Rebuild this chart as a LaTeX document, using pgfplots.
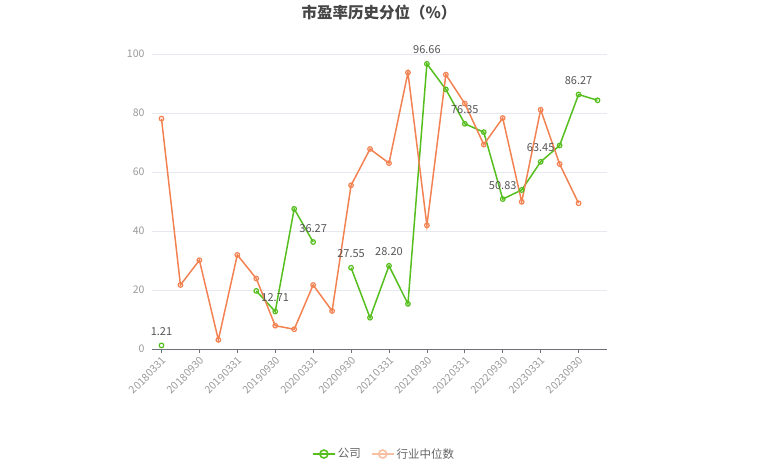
\documentclass[border=0pt]{standalone}
\usepackage{pgfplots}
\pgfplotsset{compat=1.18}
\usepackage{fontspec}
\setmainfont{Noto Sans CJK SC}
\definecolor{cgreen}{RGB}{86,190,30}
\definecolor{corange}{RGB}{242,130,82}
\definecolor{lgorange}{RGB}{248,192,162}
\definecolor{gridgray}{RGB}{230,233,240}
\definecolor{axisgray}{RGB}{110,112,121}
\definecolor{labelgray}{RGB}{153,153,153}
\definecolor{titlegray}{RGB}{70,70,70}
\definecolor{valgray}{RGB}{85,85,85}
\definecolor{leggray}{RGB}{100,100,100}
\begin{document}
\begin{tikzpicture}
\path[use as bounding box] (0pt,0pt) rectangle (765pt,467pt);
\node[font=\bfseries\fontsize{15.5}{18}\selectfont, text=titlegray] at (379pt,454pt) {市盈率历史分位（\%）};
\begin{axis}[
  at={(152pt,118pt)}, anchor=south west, scale only axis,
  width=455pt, height=295pt,
  xmin=-0.5, xmax=23.5, ymin=0, ymax=100,
  axis x line*=bottom, axis y line*=left,
  x axis line style={color=axisgray, line width=0.8pt},
  y axis line style={draw=none},
  ytick={0,20,...,100},
  ymajorgrids, grid style={color=gridgray, line width=0.6pt},
  ytick style={draw=none},
  xtick={0,2,...,22},
  xticklabels={20180331,20180930,20190331,20190930,20200331,20200930,20210331,20210930,20220331,20220930,20230331,20230930},
  xtick style={color=axisgray, line width=0.8pt},
  tick align=outside, major tick length=4pt,
  /pgf/number format/assume math mode=true,
  y tick label style={font=\fontsize{10.5}{12}\selectfont, text=labelgray},
  x tick label style={font=\fontsize{10.5}{12}\selectfont, text=labelgray, rotate=45, anchor=north east, inner sep=2pt},
  unbounded coords=jump,
  clip=false,
  legend columns=2,
  legend style={at={(0.51,-0.356)}, anchor=center, draw=none, fill=none,
    font=\fontsize{11.5}{13}\selectfont, text=leggray,
    /tikz/every even column/.append style={column sep=8pt}},
  legend image code/.code={\draw[mark repeat=2,mark phase=2,#1] plot coordinates {(0pt,0pt)(11pt,0pt)(22pt,0pt)};},
]
\addplot[color=cgreen, line width=1.5pt, mark=o, mark size=2.3pt, mark options={fill=white, line width=1.2pt}, forget plot]
coordinates {
(0,1.21) (1,nan) (2,nan) (3,nan) (4,nan) (5,19.7) (6,12.71) (7,47.5) (8,36.27) (9,nan)
(10,27.55) (11,10.6) (12,28.20) (13,15.3) (14,96.66) (15,88.0) (16,76.35) (17,73.5)
(18,50.83) (19,53.9) (20,63.45) (21,69.0) (22,86.27) (23,84.3)
};
\addplot[color=corange, line width=1.5pt, mark=o, mark size=2.3pt, mark options={fill=white, line width=1.2pt}, forget plot]
coordinates {
(0,78.1) (1,21.7) (2,30.1) (3,3.1) (4,31.9) (5,23.9) (6,7.9) (7,6.7) (8,21.7) (9,12.9)
(10,55.5) (11,67.8) (12,63.0) (13,93.7) (14,41.9) (15,93.0) (16,83.2) (17,69.3)
(18,78.3) (19,49.9) (20,81.1) (21,62.7) (22,49.4)
};
\addplot[draw=none, mark=none, forget plot,
  nodes near coords, point meta=explicit symbolic,
  every node near coord/.style={anchor=base, yshift=10pt, inner sep=0pt, font=\fontsize{11}{12}\selectfont, text=valgray}]
coordinates {
(0,1.21) [1.21] (6,12.71) [12.71] (8,36.27) [36.27] (10,27.55) [27.55] (12,28.20) [28.20]
(14,96.66) [96.66] (16,76.35) [76.35] (18,50.83) [50.83] (20,63.45) [63.45] (22,86.27) [86.27]
};
\addlegendimage{color=cgreen, line width=1.8pt, mark=o, mark size=4pt, mark options={fill=white, line width=1.6pt}}
\addlegendentry{公司}
\addlegendimage{color=lgorange, line width=1.8pt, mark=o, mark size=4pt, mark options={fill=white, line width=1.6pt}}
\addlegendentry{行业中位数}
\end{axis}
\end{tikzpicture}
\end{document}
